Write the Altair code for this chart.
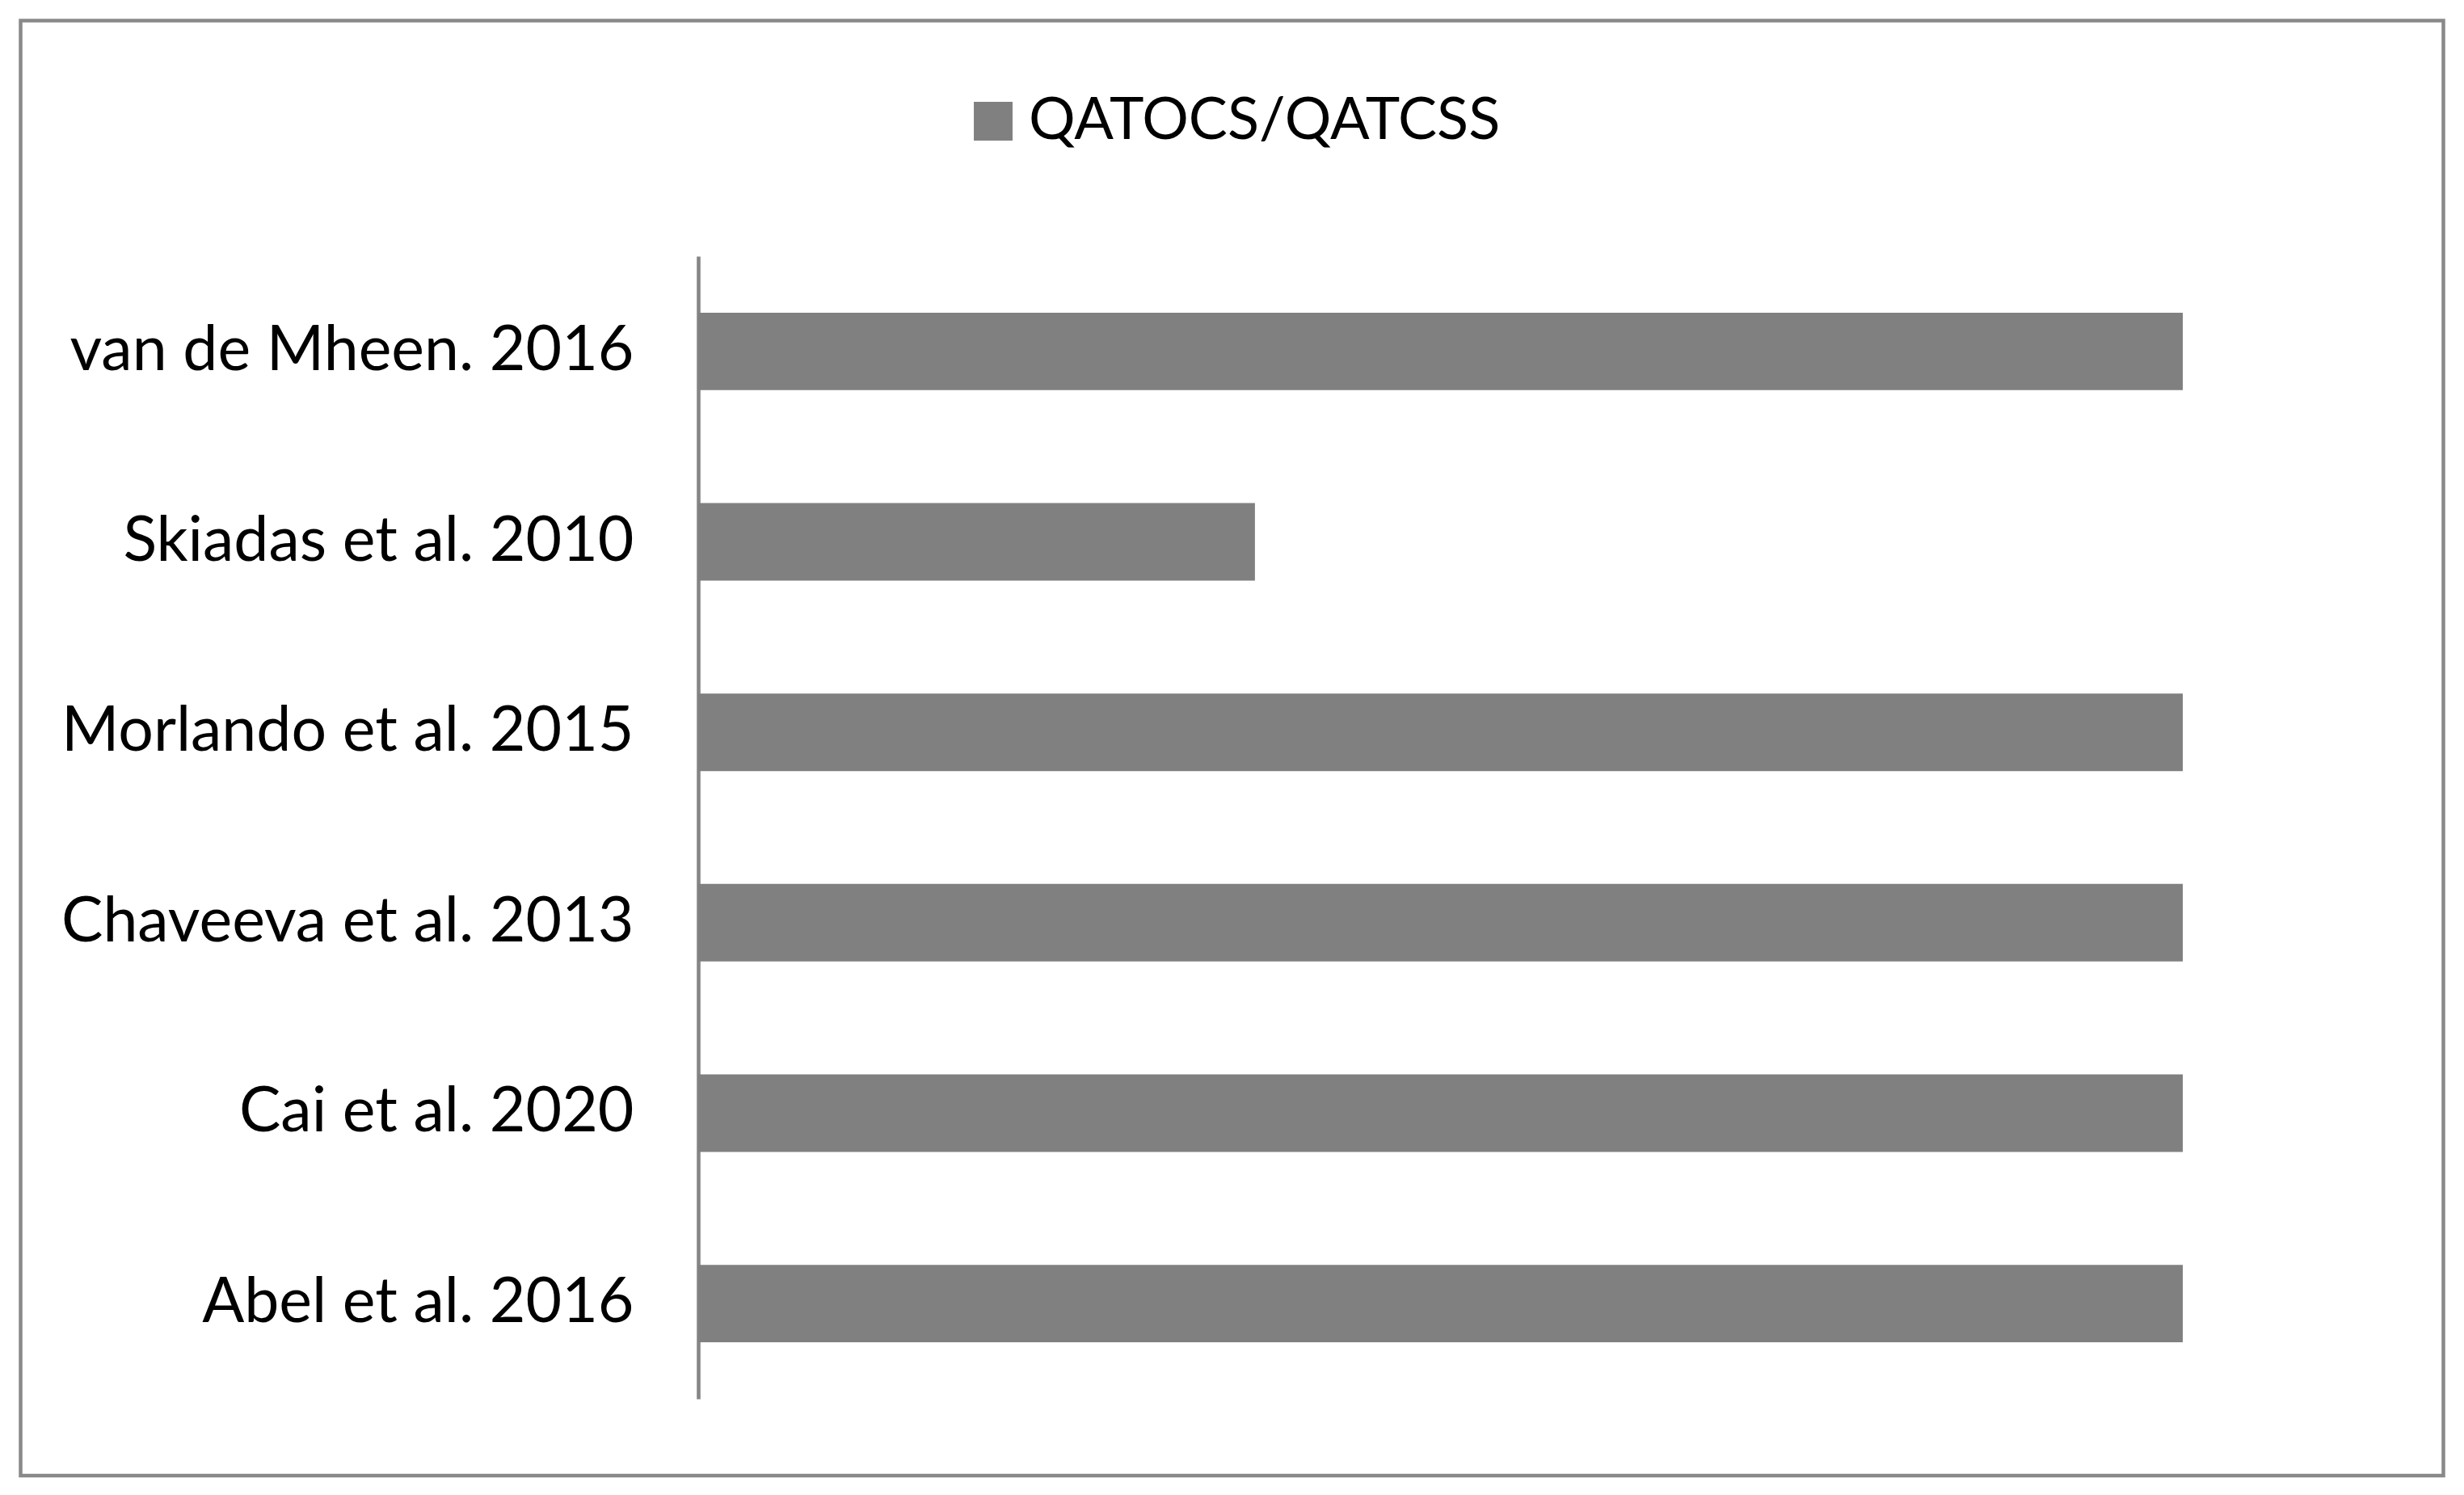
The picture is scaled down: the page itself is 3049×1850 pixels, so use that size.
import altair as alt
import pandas as pd

studies = [
    "van de Mheen. 2016",
    "Skiadas et al. 2010",
    "Morlando et al. 2015",
    "Chaveeva et al. 2013",
    "Cai et al. 2020",
    "Abel et al. 2016",
]
scores = [8, 3, 8, 8, 8, 8]
series_name = "QATOCS/QATCSS"

df = pd.DataFrame({
    "study": studies,
    "score": scores,
    "series": [series_name] * len(studies),
})

FONT = "Lato"

bars = alt.Chart(df).mark_bar().encode(
    y=alt.Y(
        "study:N",
        sort=studies,
        title=None,
        scale=alt.Scale(paddingInner=0.593, paddingOuter=0.2966),
        axis=alt.Axis(
            ticks=False,
            labelPadding=80,
            labelFont=FONT,
            labelFontSize=77,
            labelColor="#000000",
            labelLimit=2000,
            domainColor="#868686",
            domainWidth=4.6,
            grid=False,
        ),
    ),
    x=alt.X("score:Q", scale=alt.Scale(domain=[0, 8], nice=False, zero=True), axis=None),
    color=alt.Color(
        "series:N",
        scale=alt.Scale(range=["#808080"]),
        legend=alt.Legend(
            title=None,
            orient="none",
            legendX=329,
            legendY=-203,
            symbolType="square",
            symbolSize=2300,
            symbolStrokeWidth=0,
            labelFont=FONT,
            labelFontSize=72,
            labelColor="#000000",
            labelOffset=8,
            labelLimit=2000,
            padding=0,
        ),
    ),
)

border = alt.Chart(pd.DataFrame({"a": [0]})).mark_rect(
    fillOpacity=0, stroke="#898989", strokeWidth=4.5
).encode(
    x=alt.value(-838.5), x2=alt.value(2159.5),
    y=alt.value(-291.5), y2=alt.value(1509),
)

chart = alt.layer(border, bars).properties(
    width=1837,
    height=1414,
    autosize=alt.AutoSizeParams(type="none"),
    padding={"left": 856, "top": 309, "right": 337, "bottom": 107},
    background="#ffffff",
).configure_view(stroke=None)

chart.save("out.html", embed_options={"renderer": "svg", "actions": False})
